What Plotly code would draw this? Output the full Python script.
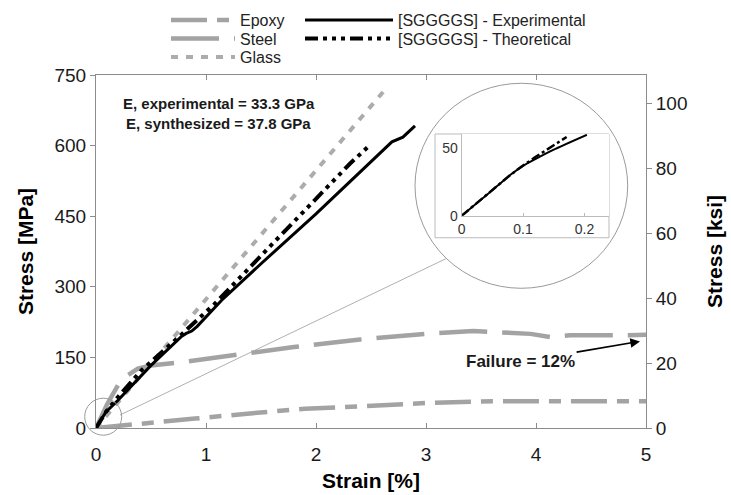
import plotly.graph_objects as go

# ---------------- data ----------------
strain_epoxy = [0, 0.3, 0.9, 1.4, 1.9, 2.4, 3.0, 3.6, 4.3, 5.0]
stress_epoxy = [0, 6, 20, 31, 41, 46, 53, 57, 57, 57]

strain_steel = [0, 0.1, 0.2, 0.26, 0.38, 0.5, 0.78, 1.23, 1.8, 2.4, 3.0, 3.43, 3.58, 3.95, 4.13, 4.31, 4.76, 5.0]
stress_steel = [0, 50, 91, 108, 126, 133, 140, 154, 172, 188, 200, 206, 204, 200, 193, 197, 197, 198]

strain_glass = [0, 2.65]
stress_glass = [0, 725]

strain_exp = [0, 0.09, 0.2, 0.5, 0.78, 0.82, 0.87, 0.92, 1.14, 1.5, 2.0, 2.31, 2.69, 2.79, 2.9]
stress_exp = [0, 34, 59, 133, 195, 201, 206, 216, 271, 349, 455, 523, 608, 618, 642]

strain_theo = [0, 0.09, 0.2, 0.415, 0.75, 0.9, 1.08, 1.5, 2.0, 2.31, 2.49]
stress_theo = [0, 34, 66, 123, 193, 225, 264, 366, 487, 562, 601]

# inset (zoom near origin)
inset_strain_exp = [0, 0.045, 0.08, 0.1, 0.12, 0.15, 0.204]
inset_stress_exp = [0, 17, 30.5, 37, 42, 49, 60]
inset_strain_theo = [0, 0.08, 0.1, 0.12, 0.171]
inset_stress_theo = [0, 30.5, 37.2, 43.5, 58.4]

x_ticks = [0, 1, 2, 3, 4, 5]
y_ticks_mpa = [0, 150, 300, 450, 600, 750]
y_ticks_ksi = [0, 20, 40, 60, 80, 100]
MPA_PER_KSI = 6.894757

FONT = "Liberation Sans, Arial, sans-serif"
GRAY = "#a3a3a3"
AXIS = "#8c8c8c"

fig = go.Figure()

fig.add_trace(go.Scatter(x=strain_epoxy, y=stress_epoxy, mode="lines", name="Epoxy",
                         line=dict(color=GRAY, width=4.5, dash="36px,10px,12px,10px"),
                         legend="legend"))
fig.add_trace(go.Scatter(x=strain_steel, y=stress_steel, mode="lines", name="Steel",
                         line=dict(color=GRAY, width=4.5, dash="48px,15px"),
                         legend="legend2"))
fig.add_trace(go.Scatter(x=strain_glass, y=stress_glass, mode="lines", name="Glass",
                         line=dict(color="#acacac", width=4, dash="7px,8px"),
                         legend="legend3"))
fig.add_trace(go.Scatter(x=strain_exp, y=stress_exp, mode="lines", name="[SGGGGS] - Experimental",
                         line=dict(color="black", width=3), legend="legend4"))
fig.add_trace(go.Scatter(x=strain_theo, y=stress_theo, mode="lines", name="[SGGGGS] - Theoretical",
                         line=dict(color="black", width=4, dash="13px,5px,4px,5px,4px,5px,4px,5px"),
                         legend="legend5"))

# secondary axis carrier (ksi) - invisible trace
fig.add_trace(go.Scatter(x=[0, 5], y=[0, 750 / MPA_PER_KSI], yaxis="y2", mode="lines",
                         line=dict(width=0), showlegend=False, hoverinfo="skip"))

# inset traces
fig.add_trace(go.Scatter(x=inset_strain_exp, y=inset_stress_exp, xaxis="x3", yaxis="y3",
                         mode="lines", line=dict(color="black", width=2, shape="spline", smoothing=0.6),
                         showlegend=False))
fig.add_trace(go.Scatter(x=inset_strain_theo, y=inset_stress_theo, xaxis="x3", yaxis="y3",
                         mode="lines", line=dict(color="black", width=2.5, dash="9px,3px,3px,3px"),
                         showlegend=False))

tickfont = dict(family=FONT, size=19, color="#1a1a1a")
titlefont = dict(family=FONT, size=21, color="black", weight="bold")
legfont = dict(family=FONT, size=16, color="#222222")


def leg(xp, yp, iw):
    return dict(x=xp, y=yp, xanchor="left", yanchor="middle", orientation="v",
                font=legfont, itemwidth=iw, bgcolor="rgba(0,0,0,0)", borderwidth=0)


fig.update_layout(
    width=731, height=495,
    margin=dict(l=96, r=85, t=75, b=67, autoexpand=False),
    paper_bgcolor="white", plot_bgcolor="white",
    font=dict(family=FONT, color="#1a1a1a"),
    xaxis=dict(range=[0, 5], tickvals=x_ticks, ticks="inside", ticklen=5, tickcolor=AXIS,
               showline=True, linecolor=AXIS, linewidth=1, mirror="ticks",
               showgrid=False, zeroline=False, tickfont=tickfont, ticklabelstandoff=9,
               title=dict(text="Strain [%]", font=titlefont, standoff=9)),
    yaxis=dict(range=[0, 750], tickvals=y_ticks_mpa, ticks="outside", ticklen=5, tickcolor=AXIS,
               showline=True, linecolor=AXIS, linewidth=1,
               showgrid=False, zeroline=False, tickfont=tickfont,
               title=dict(text="Stress [MPa]", font=titlefont, standoff=15)),
    yaxis2=dict(range=[0, 750 / MPA_PER_KSI], tickvals=y_ticks_ksi, overlaying="y", side="right",
                ticks="outside", ticklen=5, tickcolor=AXIS, showline=True, linecolor=AXIS,
                showgrid=False, zeroline=False, tickfont=tickfont,
                title=dict(text="Stress [ksi]", font=titlefont, standoff=20)),
    xaxis3=dict(domain=[0.6649, 0.9327], anchor="y3", range=[0, 0.24], tickvals=[0, 0.1, 0.2],
                ticktext=["0", "0.1", "0.2"], ticks="inside", ticklen=3, tickcolor="#bbbbbb",
                showline=True, linecolor="#bbbbbb", linewidth=1, showgrid=False, zeroline=False,
                tickfont=dict(family=FONT, size=14, color="#333333")),
    yaxis3=dict(domain=[0.6014, 0.8329], anchor="x3", range=[0, 60.6], tickvals=[0, 50],
                ticks="", showline=True, linecolor="#bbbbbb", linewidth=1, showgrid=False,
                zeroline=False, tickfont=dict(family=FONT, size=14, color="#333333")),
    legend=leg(0.1273, 1.1558, 64),
    legend2=leg(0.1273, 1.1034, 64),
    legend3=leg(0.1273, 1.0510, 64),
    legend4=leg(0.3709, 1.1558, 88),
    legend5=leg(0.3709, 1.1034, 88),
    showlegend=True,
)

# circles, connector and inset frame (paper coordinates)
fig.add_shape(type="circle", xref="paper", yref="paper",
              x0=0.580, x1=0.9667, y0=0.3958, y1=0.9765,
              line=dict(color="#9a9a9a", width=1), fillcolor="rgba(255,255,255,0)", layer="below")
fig.add_shape(type="circle", xref="paper", yref="paper",
              x0=-0.0205, x1=0.0467, y0=-0.0204, y1=0.0844,
              line=dict(color="#9a9a9a", width=1), layer="above")
fig.add_shape(type="line", xref="paper", yref="paper",
              x0=0.0436, y0=0.0368, x1=0.6376, y1=0.4807,
              line=dict(color="#b0b0b0", width=1), layer="below")
fig.add_shape(type="rect", xref="paper", yref="paper",
              x0=0.6164, x1=0.9327, y0=0.539, y1=0.8329,
              line=dict(color="#bbbbbb", width=1), layer="below")

# annotations
fig.add_annotation(x=1.118, y=690, xref="x", yref="y", showarrow=False,
                   text="<b>E, experimental = 33.3 GPa</b>",
                   font=dict(family=FONT, size=15, color="#1a1a1a"))
fig.add_annotation(x=1.118, y=647, xref="x", yref="y", showarrow=False,
                   text="<b>E, synthesized = 37.8 GPa</b>",
                   font=dict(family=FONT, size=15, color="#1a1a1a"))
fig.add_annotation(x=4.945, y=184, xref="x", yref="y", ax=3.86, ay=141, axref="x", ayref="y",
                   text="<b>Failure = 12%</b>", showarrow=True, arrowhead=2, arrowsize=1.2,
                   arrowwidth=1.6, arrowcolor="black",
                   font=dict(family=FONT, size=17, color="#1a1a1a"))

fig.write_html("out.html")
